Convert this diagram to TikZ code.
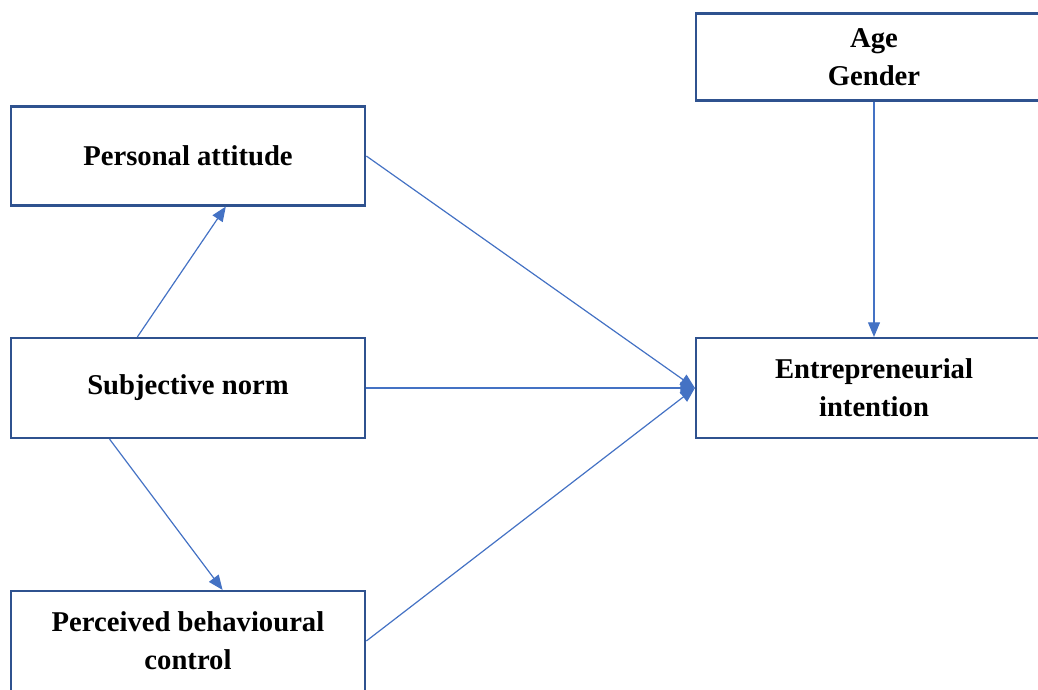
\documentclass[tikz,border=0pt]{standalone}
\usepackage{fontspec}
\setmainfont{Liberation Serif}
\usetikzlibrary{arrows.meta,calc}
\definecolor{boxblue}{HTML}{2F528F}
\definecolor{arrblue}{HTML}{4472C4}
\tikzset{
  box/.style={draw=boxblue, line width=1.6pt, fill=white, rectangle, inner sep=0pt,
    align=center, font=\fontsize{21.5}{28.5}\selectfont\bfseries},
  conn/.style={draw=arrblue, line width=0.9pt, -{Triangle[length=11pt,width=9pt]}}
}
\begin{document}
\begin{tikzpicture}[x=0.75pt,y=-0.75pt]
\useasboundingbox (0,0) rectangle (1038,689);
\clip (0,0) rectangle (1038,689);
\node[box, minimum width=354.5*0.75pt, minimum height=99*0.75pt] (pa) at (188,156) {Personal attitude};
\node[box, minimum width=354.5*0.75pt, minimum height=100*0.75pt] (sn) at (188,388) {Subjective norm};
\node[box, minimum width=354.5*0.75pt, minimum height=100*0.75pt] (pbc) at (188,641) {Perceived behavioural\\control};
\node[box, minimum width=356*0.75pt, minimum height=87*0.75pt] (ag) at (874,57) {Age\\Gender};
\node[box, minimum width=356*0.75pt, minimum height=100*0.75pt] (ei) at (874,388) {Entrepreneurial\\intention};
\draw[conn] ($(sn.north west)!0.358!(sn.north east)$) -- ($(pa.south west)!0.606!(pa.south east)$);
\draw[conn] ($(sn.south west)!0.28!(sn.south east)$) -- ($(pbc.north west)!0.597!(pbc.north east)$);
\draw[conn] (pa.east) -- (ei.west);
\draw[conn] (sn.east) -- (ei.west);
\draw[conn] (pbc.east) -- (ei.west);
\draw[conn] (ag.south) -- (ei.north);
\end{tikzpicture}
\end{document}
